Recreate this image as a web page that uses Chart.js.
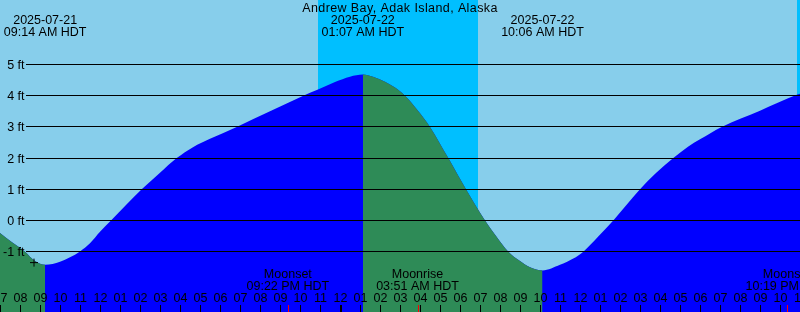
<!DOCTYPE html>
<html>
<head>
<meta charset="utf-8">
<title>Andrew Bay tides</title>
<script src="https://cdn.jsdelivr.net/npm/chart.js@4.4.1/dist/chart.umd.min.js"></script>
<style>
    html, body { margin: 0; padding: 0; background: #87ceeb; overflow: hidden; }
    #tide-chart { display: block; }
</style>
</head>
<body>
<canvas id="tide-chart" width="800" height="312"></canvas>
<script>
const stationName = "Andrew Bay, Adak Island, Alaska";

// Tide curve: hours since 2025-07-21 00:00 HDT / height in feet
const tideHours = [6.95, 7.575, 8.225, 8.725, 9.233,
    9.975, 10.475, 10.975, 11.475, 11.975, 12.525, 13.275, 14.06, 14.975, 15.81, 16.625, 17.475,
    18.81, 20.475, 22.14, 22.875, 23.725, 24.475, 25.117,
    25.625, 26.225, 26.725, 27.225, 27.875, 28.475, 29.39, 30.275, 31.225, 31.775,
    32.39, 32.975, 33.475, 34.1,
    34.975, 35.64, 36.14, 36.875, 37.64, 38.275, 38.975, 39.775, 40.64, 41.375, 41.975,
    43.06, 44.975, 46.81, 47.0];
const tideFeet = [-0.39, -0.70, -1.0, -1.30, -1.42,
    -1.32, -1.18, -0.99, -0.73, -0.36, 0.0, 0.50, 1.0, 1.53, 2.0, 2.35, 2.62,
    3.0, 3.5, 4.0, 4.2, 4.44, 4.61, 4.68,
    4.61, 4.45, 4.26, 4.0, 3.52, 3.0, 2.0, 1.0, 0.0, -0.5,
    -1.0, -1.3, -1.5, -1.6,
    -1.42, -1.22, -1.0, -0.52, 0.0, 0.48, 1.0, 1.52, 2.0, 2.36, 2.6,
    3.0, 3.52, 4.03, 4.07];

// High and low tides
const extremeHours = [9.233, 25.117, 34.1];
const extremeDates = ["2025-07-21", "2025-07-22", "2025-07-22"];
const extremeTimes = ["09:14 AM HDT", "01:07 AM HDT", "10:06 AM HDT"];

// Moon events
const moonHours = [21.367, 27.85, 46.317];
const moonNames = ["Moonset", "Moonrise", "Moonset"];
const moonTimes = ["09:22 PM HDT", "03:51 AM HDT", "10:19 PM HDT"];

// Night (sunset -> sunrise)
const nightStarts = [22.875, 46.81];
const nightEnds = [30.875, 49];

// Axes
const heightTicks = [-1, 0, 1, 2, 3, 4, 5];
const firstTickHour = 7;
const hourLabels = ["07", "08", "09", "10", "11", "12", "01", "02", "03", "04", "05", "06",
    "07", "08", "09", "10", "11", "12", "01", "02", "03", "04", "05", "06",
    "07", "08", "09", "10", "11", "12", "01", "02", "03", "04", "05", "06",
    "07", "08", "09", "10", "11"];
const startHour = 6.975;
const endHour = 46.975;
const minFeet = -2.933;
const maxFeet = 7.067;

// "+" mark
const markHour = 8.675;
const markFeet = -1.35;

const dayColor = "#87ceeb";
const nightColor = "#00bfff";
const floodColor = "#0000ff";
const ebbColor = "#2e8b57";
const clear = "rgba(0,0,0,0)";
const font = '12.5px "Liberation Sans", Arial, sans-serif';

const curvePoints = tideHours.map((h, i) => ({ x: h, y: tideFeet[i] }));

// Background, grid and labels drawn with the chart scales
const tidePlugin = {
    id: "tideDecor",
    beforeDatasetsDraw(chart) {
        const { ctx, width, height } = chart;
        const x = chart.scales.x;
        ctx.save();
        ctx.fillStyle = dayColor;
        ctx.fillRect(0, 0, width, height);
        ctx.fillStyle = nightColor;
        nightStarts.forEach((s, i) => {
            const x0 = Math.round(x.getPixelForValue(s));
            const x1 = Math.round(x.getPixelForValue(nightEnds[i]));
            ctx.fillRect(x0, 0, x1 - x0, height);
        });
        ctx.restore();
    },
    afterDatasetsDraw(chart) {
        const { ctx, width } = chart;
        const x = chart.scales.x;
        const y = chart.scales.y;
        ctx.save();
        ctx.font = font;
        ctx.fillStyle = "#000";
        ctx.strokeStyle = "#000";
        ctx.lineWidth = 1;

        // height lines
        heightTicks.forEach(v => {
            const py = Math.floor(y.getPixelForValue(v)) + 0.5;
            ctx.beginPath();
            ctx.moveTo(26, py);
            ctx.lineTo(width, py);
            ctx.stroke();
            ctx.textAlign = "right";
            ctx.fillText(v + " ft", 24.5, py + 4);
        });

        // hour ticks
        ctx.textAlign = "center";
        hourLabels.forEach((label, i) => {
            const h = firstTickHour + i;
            const px = x.getPixelForValue(h);
            ctx.lineWidth = h % 24 === 0 ? 2 : 1;
            const tx = h % 24 === 0 ? Math.round(px) : Math.floor(px) + 0.5;
            ctx.beginPath();
            ctx.moveTo(tx, 305);
            ctx.lineTo(tx, 312);
            ctx.stroke();
            ctx.fillText(label, px, 302);
        });

        // moon events
        ctx.strokeStyle = "#ff0000";
        ctx.lineWidth = 1;
        moonHours.forEach((h, i) => {
            const px = x.getPixelForValue(h);
            const tx = Math.round(px) + 0.5;
            ctx.beginPath();
            ctx.moveTo(tx, 305);
            ctx.lineTo(tx, 312);
            ctx.stroke();
            ctx.fillText(moonNames[i], px, 278);
            ctx.fillText(moonTimes[i], px, 290);
        });

        // title and high / low labels
        ctx.letterSpacing = "0.4px";
        ctx.fillText(stationName, width / 2, 12);
        ctx.letterSpacing = "0px";
        extremeHours.forEach((h, i) => {
            const px = x.getPixelForValue(h);
            ctx.fillText(extremeDates[i], px, 24);
            ctx.fillText(extremeTimes[i], px, 36);
        });
        ctx.restore();
    }
};

new Chart(document.getElementById("tide-chart").getContext("2d"), {
    type: "line",
    data: {
        datasets: [
            {
                // whole curve, rising colour
                data: curvePoints,
                fill: "start",
                backgroundColor: floodColor,
                borderColor: clear,
                borderWidth: 1,
                cubicInterpolationMode: "monotone",
                pointRadius: 0,
                order: 3,
            },
            {
                // falling parts on top
                data: curvePoints,
                fill: "start",
                backgroundColor: clear,
                borderColor: clear,
                borderWidth: 1,
                cubicInterpolationMode: "monotone",
                pointRadius: 0,
                order: 2,
                segment: {
                    backgroundColor: c => (c.p1.parsed.y < c.p0.parsed.y ? ebbColor : clear),
                },
            },
            {
                data: [{ x: markHour, y: markFeet }],
                showLine: false,
                pointStyle: "cross",
                pointRadius: 4,
                borderColor: "#000",
                borderWidth: 1,
                order: 1,
            },
        ],
    },
    options: {
        responsive: false,
        animation: false,
        devicePixelRatio: 1,
        layout: { padding: 0, autoPadding: false },
        events: [],
        plugins: {
            legend: { display: false },
            tooltip: { enabled: false },
        },
        scales: {
            x: { type: "linear", min: startHour, max: endHour, display: false },
            y: { type: "linear", min: minFeet, max: maxFeet, display: false },
        },
    },
    plugins: [tidePlugin],
});
</script>
</body>
</html>
